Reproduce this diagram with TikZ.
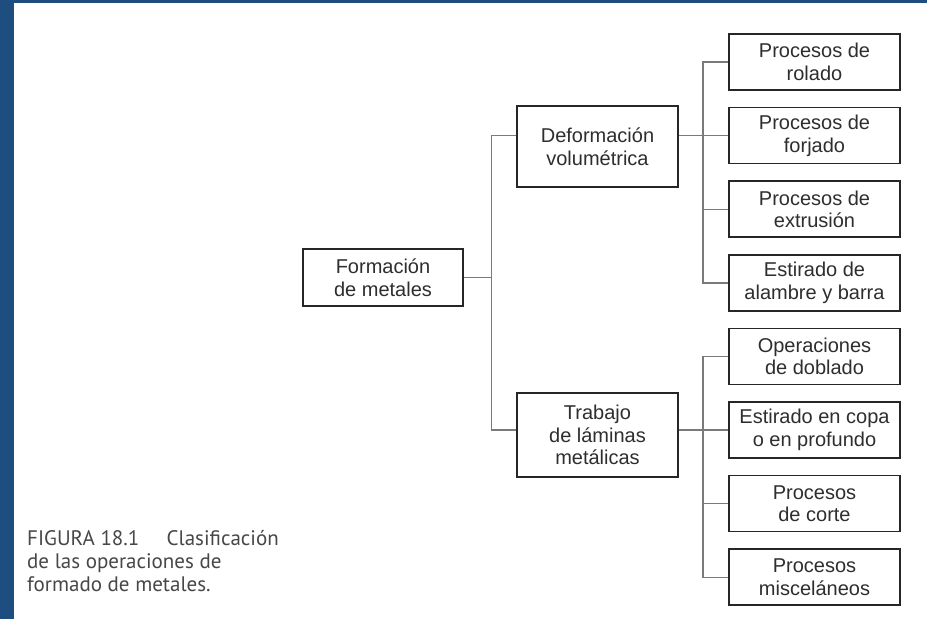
\documentclass[tikz,border=0pt]{standalone}
\usepackage{fontspec}
\setmainfont{Liberation Sans}
\newfontfamily\capfont{PT Sans}
\usetikzlibrary{positioning}
\definecolor{slideblue}{HTML}{1D4E7F}
\definecolor{boxtext}{HTML}{2E2E2E}
\definecolor{linegray}{HTML}{7A7A7A}
\definecolor{captext}{HTML}{474747}
\tikzstyle{b}=[draw=black!85, line width=1.6pt, text=boxtext, align=center, inner sep=2pt, font=\fontsize{20}{22.5}\selectfont]
\tikzstyle{leaf}=[b, minimum width=171pt, minimum height=56pt]

\begin{document}
\begin{tikzpicture}[x=1pt, y=-1pt,
	con/.style = {draw=linegray, line width=1.4pt}]

	% slide background
	\fill[slideblue] (0,0) rectangle (927,619);
	\fill[white] (14,3) rectangle (927,619);

	\node[b, minimum width=160pt, minimum height=57pt] (fm) at (383,277.5) {Formación\\de metales};
	\node[b, minimum width=161pt, minimum height=81pt] (dv) at (597.5,146.5) {Deformación\\volumétrica};
	\node[b, minimum width=161pt, minimum height=84pt] (tl) at (597.5,435) {Trabajo\\de láminas\\metálicas};

	\node[leaf] (rol) at (814.5,62) {Procesos de\\rolado};
	\node[leaf] (frj) [below = 16pt of rol] {Procesos de\\forjado};
	\node[leaf] (ext) [below = 16pt of frj] {Procesos de\\extrusión};
	\node[leaf] (alm) [below = 16pt of ext] {Estirado de\\alambre y barra};
	\node[leaf] (dob) [below = 16pt of alm] {Operaciones\\de doblado};
	\node[leaf] (cop) [below = 16pt of dob] {Estirado en copa\\o en profundo};
	\node[leaf] (crt) [below = 16pt of cop] {Procesos\\de corte};
	\node[leaf] (mis) [below = 16pt of crt] {Procesos\\misceláneos};

	\coordinate (tk) at (491.5,0);
	\coordinate (tk2) at (703,0);

	% root trunk
	\draw[con] (fm.east) -- (fm.east -| tk);
	\draw[con] (dv.west |- frj.west) -| (tk |- cop.west) -- (tl.west |- cop.west);

	% upper branch
	\draw[con] (dv.east |- frj.west) -- (frj.west);
	\draw[con] (rol.west) -| (tk2 |- alm.west) -- (alm.west);
	\draw[con] (tk2 |- ext.west) -- (ext.west);

	% lower branch
	\draw[con] (tl.east |- cop.west) -- (cop.west);
	\draw[con] (dob.west) -| (tk2 |- mis.west) -- (mis.west);
	\draw[con] (tk2 |- crt.west) -- (crt.west);

	\node[anchor=north west, align=left, inner sep=0pt, text=captext,
	font=\capfont\fontsize{21}{23}\selectfont] (cap) at (27,530)
	{FIGURA 18.1\hspace{1.3em}Clasificación\\de las operaciones de\\formado de metales.};

\end{tikzpicture}
\end{document}
